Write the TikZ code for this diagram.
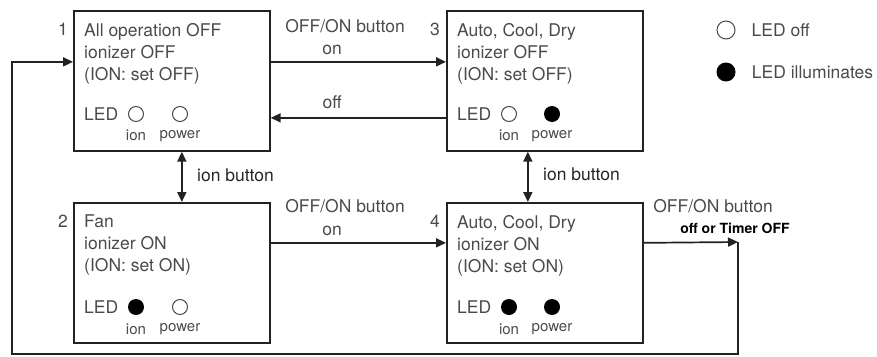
\documentclass[tikz,border=0pt]{standalone}
\usepackage{fontspec}
\setmainfont{TeX Gyre Heros}
\usetikzlibrary{arrows.meta,calc,positioning}
\definecolor{ink}{HTML}{4A4A4A}
\definecolor{darkink}{HTML}{262626}
\definecolor{frame}{HTML}{222222}
\tikzset{
  statebox/.style={
    draw=frame,
    line width=1.7pt,
    minimum width=196pt,
    minimum height=140pt,
    anchor=north west,
    inner sep=0pt
  },
  state text/.style={
    text=ink,
    font=\fontsize{17.5}{22}\selectfont,
    align=left,
    inner sep=0pt,
    anchor=north west
  },
  state number/.style={text=ink,font=\fontsize{17.5}{20}\selectfont,inner sep=0pt},
  led off/.style={circle,draw=ink,line width=1pt,minimum size=15pt,inner sep=0pt},
  led on/.style={circle,fill=black,minimum size=16pt,inner sep=0pt},
  led label/.style={text=ink,font=\fontsize{15}{17}\selectfont,inner sep=0pt},
  led word/.style={text=ink,font=\fontsize{17.5}{20}\selectfont,inner sep=0pt,anchor=west},
  flow/.style={draw=frame,line width=1.7pt,-{Triangle[length=10pt,width=9pt]}},
  both flow/.style={draw=frame,line width=1.7pt,
    {Triangle[length=10pt,width=9pt]}-{Triangle[length=10pt,width=9pt]}},
  edge label/.style={text=ink,font=\fontsize{17.5}{20}\selectfont,inner sep=0pt},
  button label/.style={text=darkink,font=\fontsize{17.5}{20}\selectfont,inner sep=0pt,anchor=west},
  timer label/.style={text=black,font=\bfseries\fontsize{14}{16}\selectfont,inner sep=0pt}
}

\begin{document}
\begin{tikzpicture}[x=1pt,y=-1pt]
  \useasboundingbox (0,0) rectangle (877,356);

  % the four states
  \node[statebox] (s1) at (73,10) {};
  \node[statebox] (s3) at (446,10) {};
  \node[statebox] (s2) at (73,202) {};
  \node[statebox] (s4) at (446,202) {};

  \node[state number,anchor=east] (n1) at (68,29) {1};
  \node[state number,anchor=east] (n3) at (440,29) {3};
  \node[state number,anchor=east] (n2) at (68,221) {2};
  \node[state number,anchor=east] (n4) at (440,221) {4};

  \node[state text] (t1) at (84,23) {All operation OFF\\ionizer OFF\\(ION: set OFF)};
  \node[state text] (t3) at (457,23) {Auto, Cool, Dry\\ionizer OFF\\(ION: set OFF)};
  \node[state text] (t2) at (84,215) {Fan\\ionizer ON\\(ION: set ON)};
  \node[state text] (t4) at (457,215) {Auto, Cool, Dry\\ionizer ON\\(ION: set ON)};

  % LED rows
  \node[led word] (w1) at (84,114) {LED};
  \node[led off] (ion1) at (136,114) {};
  \node[led off] (pow1) at (180,114) {};
  \node[led word] (w3) at (457,114) {LED};
  \node[led off] (ion3) at (509,114) {};
  \node[led on] (pow3) at (552,114) {};
  \node[led word] (w2) at (84,307) {LED};
  \node[led on] (ion2) at (136,307) {};
  \node[led off] (pow2) at (180,307) {};
  \node[led word] (w4) at (457,307) {LED};
  \node[led on] (ion4) at (509,307) {};
  \node[led on] (pow4) at (552,307) {};

  \foreach \s in {1,2,3,4}{
    \node[led label,below=8pt of ion\s] {ion};
    \node[led label,below=8pt of pow\s] {power};
  }

  % legend
  \node[led off,minimum size=18pt] (legoff) at (726,30) {};
  \node[led word,right=16pt of legoff] (legofftext) {LED off};
  \node[led on,minimum size=19pt] (legon) at (726,72) {};
  \node[led word,right=16pt of legon] (legontext) {LED illuminates};

  % OFF/ON button
  \node[edge label] (b13) at (345,26) {OFF/ON button};
  \draw[flow] ([yshift=19pt]s1.east) --
    node[edge label,above=6pt,pos=0.35] {on} ([yshift=19pt]s3.west);
  \draw[flow] ([yshift=-37pt]s3.west) --
    node[edge label,above=8pt,pos=0.65] {off} ([yshift=-37pt]s1.east);
  \node[edge label] (b24) at (345,206) {OFF/ON button};
  \draw[flow] ([yshift=30pt]s2.east) --
    node[edge label,above=6pt,pos=0.35] {on} ([yshift=30pt]s4.west);

  % ion button
  \draw[both flow] ([xshift=10pt]s1.south) -- ([xshift=10pt]s2.north);
  \node[button label] (i12) at (197,175) {ion button};
  \draw[both flow] ([xshift=-17pt]s3.south) -- ([xshift=-17pt]s4.north);
  \node[button label] (i34) at (543,174) {ion button};

  % back to state 1
  \coordinate (loop tr) at (738,242);
  \coordinate (loop br) at (738,354);
  \coordinate (loop bl) at (12,354);
  \node[edge label] (b41) at (713,206) {OFF/ON button};
  \node[timer label] (timer) at (735,228) {off or Timer OFF};
  \draw[flow] ([yshift=30pt]s4.east) -- (loop tr);
  \draw[flow] (loop tr) -- (loop br) -- (loop bl) |- ([yshift=19pt]s1.west);
\end{tikzpicture}
\end{document}
